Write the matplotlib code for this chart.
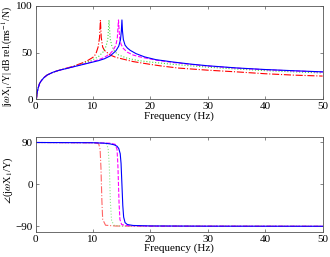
import numpy as np
import matplotlib
matplotlib.use('Agg')
import matplotlib.pyplot as plt

plt.rcParams['font.family'] = ['Liberation Serif', 'DejaVu Serif']
plt.rcParams['mathtext.fontset'] = 'stix'
plt.rcParams['font.size'] = 8

# Magnitude curves (frequency in Hz, level in dB)
f_blue = [0.15, 0.3, 0.5, 0.7, 1.0, 1.5, 2, 3, 4, 5, 6, 7, 8, 9, 10, 11, 12, 13, 14, 14.5,
          14.8, 14.95, 15.05, 15.15, 15.3, 15.6, 16, 16.5, 17.5, 19, 21, 24, 27, 30, 35, 40, 45, 50]
m_blue = [0, 8, 13, 17, 20, 23.5, 26, 29, 31, 32.5, 34, 35.5, 37, 38.5, 40, 41.5, 43.5, 46.5, 52, 57,
          64, 73, 85, 73, 64, 58, 55, 52.5, 49, 45.5, 42.5, 40, 37.8, 36, 33.7, 32, 30.7, 29.5]

f_mag = [0.15, 0.3, 0.5, 0.7, 1.0, 1.5, 2, 3, 4, 5, 6, 7, 8, 9, 10, 11, 12, 13, 13.5, 14,
         14.25, 14.45, 14.65, 14.9, 15.3, 16, 17, 18, 19, 21, 24, 27, 30, 35, 40, 45, 50]
m_mag = [0, 8, 13, 17, 20, 23.5, 26, 29, 31, 32.5, 34, 35.7, 37.3, 38.9, 40.6, 42.5, 45, 49, 52.5, 58,
         66, 85, 66, 59, 54.5, 50.5, 47.5, 45.8, 44.5, 42, 39.5, 37.5, 35.7, 33.5, 31.8, 30.5, 29.3]

f_green = [0.15, 0.3, 0.5, 0.7, 1.0, 1.5, 2, 3, 4, 5, 6, 7, 8, 9, 10, 11, 11.8, 12.3, 12.6,
           12.8, 13.0, 13.3, 13.8, 14.5, 16, 18, 20, 24, 30, 35, 40, 45, 50]
m_green = [0, 8, 13, 17, 20, 23.5, 26, 29, 31, 32.5, 34, 36, 38, 40, 42.5, 46, 51, 57, 65,
           85, 65, 57, 51, 47.5, 44, 41.5, 40, 37.5, 34.5, 32.5, 30.8, 29.5, 28.3]

f_red = [0.15, 0.3, 0.5, 0.7, 1.0, 1.5, 2, 3, 4, 5, 6, 7, 8, 9, 10, 10.5, 10.9, 11.15,
         11.3, 11.45, 11.7, 12, 13, 14, 15, 17, 20, 22, 25, 30, 35, 40, 45, 50]
m_red = [0, 8, 13, 17, 20, 23.5, 26, 29, 31, 32.8, 34.5, 36.5, 38.7, 41.3, 45, 48.5, 56, 66,
         85, 66, 56, 52.5, 47.5, 45, 43.5, 40.5, 37.5, 35.7, 33.5, 31.3, 29.5, 27.5, 26, 25]

# Phase curves (degrees)
fp_blue = [0, 10, 12, 13, 13.7, 14.2, 14.5, 14.75, 14.9, 15.05, 15.2, 15.35, 15.6, 16, 17, 20, 30, 50]
p_blue = [90, 89.5, 88.5, 87, 85, 82, 77, 66, 45, 0, -45, -70, -82, -86, -88, -89, -89.5, -89.7]

fp_mag = [0, 10, 13, 13.9, 14.2, 14.35, 14.45, 14.55, 14.7, 15, 16, 20, 50]
p_mag = [90, 89.5, 88.5, 86, 75, 40, 0, -40, -75, -86, -88.5, -89.5, -89.8]

fp_green = [0, 10, 12.3, 12.65, 12.85, 12.95, 13.05, 13.25, 13.7, 15, 50]
p_green = [90, 89.6, 88, 78, 40, 0, -40, -78, -88, -89.3, -89.8]

fp_red = [0, 10, 11.0, 11.25, 11.4, 11.48, 11.56, 11.7, 12.2, 14, 50]
p_red = [90, 89.5, 87.5, 75, 35, 0, -35, -75, -87.5, -89.2, -89.8]

fig = plt.figure(figsize=(3.3, 2.57), dpi=100)
ax1 = fig.add_axes([0.1076, 0.613, 0.870, 0.364])
ax2 = fig.add_axes([0.1076, 0.0973, 0.870, 0.370])

lw = 0.8
ax1.plot(f_red, m_red, color='red', ls='-.', lw=lw)
ax1.plot(f_green, m_green, color='#44dd44', ls=':', lw=lw)
ax1.plot(f_mag, m_mag, color='magenta', ls='--', lw=lw)
ax1.plot(f_blue, m_blue, color='blue', ls='-', lw=lw)

ax2.plot(fp_red, p_red, color='red', ls='-.', lw=lw, alpha=0.6)
ax2.plot(fp_green, p_green, color='#44dd44', ls=':', lw=lw, alpha=0.6)
ax2.plot(fp_mag, p_mag, color='magenta', ls='--', lw=lw)
ax2.plot(fp_blue, p_blue, color='blue', ls='-', lw=lw)

ax1.set_xlim(0, 50)
ax1.set_ylim(0, 100)
ax1.set_xticks([0, 10, 20, 30, 40, 50])
ax1.set_yticks([0, 50, 100])
ax1.set_xlabel('Frequency (Hz)', labelpad=0)
ax1.set_ylabel(r'|j$\omega$X$_1$/Y| dB rel.(ms$^{-1}$/N)', fontsize=7)
ax1.yaxis.set_label_coords(-0.07, 0.46)

ax2.set_xlim(0, 50)
ax2.set_ylim(-102, 102)
ax2.set_xticks([0, 10, 20, 30, 40, 50])
ax2.set_yticks([-90, 0, 90])
ax2.set_xlabel('Frequency (Hz)', labelpad=0)
ax2.set_ylabel(r'$\angle$(j$\omega$X$_1$/Y)', fontsize=7.5)
ax2.yaxis.set_label_coords(-0.07, 0.55)

for ax in (ax1, ax2):
    ax.tick_params(direction='in', top=True, right=True, length=2.5, width=0.5,
                   color='#555555', labelsize=8, pad=2)
    for s in ax.spines.values():
        s.set_color('#555555')
        s.set_linewidth(0.6)

fig.savefig('out.png', dpi=100)
